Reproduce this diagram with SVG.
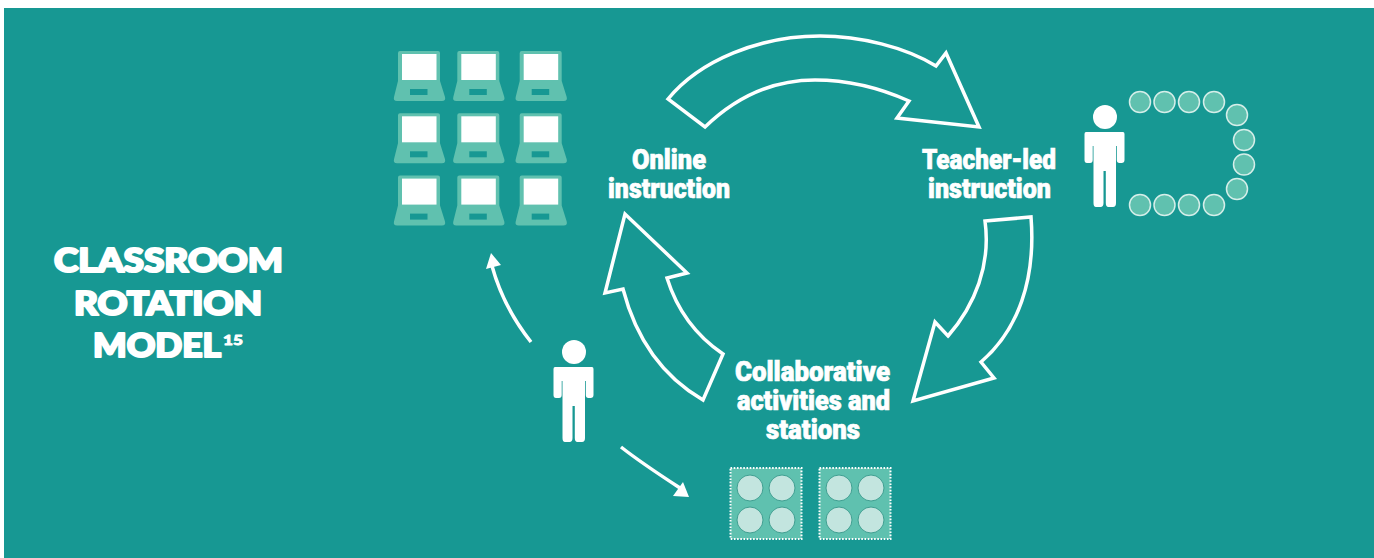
<svg xmlns="http://www.w3.org/2000/svg" width="1374" height="558" viewBox="0 0 1374 558">
<style>
.lbl{font-family:"Roboto","Liberation Sans",sans-serif;font-weight:900;font-size:28px;fill:#fff;stroke:#fff;stroke-width:.7px}
.ttl{font-family:"Lato","Liberation Sans",sans-serif;font-weight:900;font-size:33px;fill:#fff;stroke:#fff;stroke-width:2.2px;stroke-linejoin:round}
.big{fill:none;stroke:#fff;stroke-width:3.5;stroke-linejoin:miter}
.thin{fill:none;stroke:#fff;stroke-width:3.5}
.seat{fill:#60C1AF;stroke:#D5EEE9;stroke-width:1.5}
.box{fill:#5FC1AF;stroke:#fff;stroke-width:2;stroke-dasharray:1.6 1.6}
.pod{fill:#C3E5DF;stroke:#3F9F91;stroke-width:1}
.lid{fill:#60C1AF}
.scr{fill:#fff}
.key{fill:#179893}
</style>
<defs>
<g id="person" fill="#fff">
<circle cx="0" cy="0" r="12"/>
<path d="M-19 15H18Q19.500 15 19.500 17V43Q19.500 46 16.500 46H14.500Q11.800 46 11.800 43V29H11V86Q11 90 8 90H3.500Q0.800 90 0.800 86V54H-1.500V86Q-1.500 90 -4.500 90H-9Q-11.500 90 -11.500 86V29H-12.300V43Q-12.300 46 -15 46H-18Q-20.500 46 -20.500 43V17Q-20.500 15 -19 15Z"/>
</g>
<g id="laptop">
<path class="lid" d="M400 51H438Q440 51 440 53V81L445 97Q446 101 442 101H397Q393 101 394 97L398 81V53Q398 51 400 51Z"/>
<rect class="scr" x="402" y="54" width="34.500" height="26"/>
<rect class="key" x="410" y="89" width="17.500" height="6"/>
</g>
<g id="station">
<rect class="box" x="730.500" y="468" width="71" height="71"/>
<circle class="pod" cx="750" cy="488" r="13"/>
<circle class="pod" cx="782" cy="488" r="13"/>
<circle class="pod" cx="750" cy="520" r="13"/>
<circle class="pod" cx="782" cy="520" r="13"/>
</g>
</defs>
<rect x="0" y="0" width="1374" height="558" fill="#fff"/>
<rect x="4" y="8" width="1370" height="550" fill="#179893"/>
<g id="title">
<text class="ttl" x="54" y="272" textLength="229" lengthAdjust="spacingAndGlyphs">CLASSROOM</text>
<text class="ttl" x="74" y="315" textLength="188" lengthAdjust="spacingAndGlyphs">ROTATION</text>
<text class="ttl" x="93" y="357" textLength="128" lengthAdjust="spacingAndGlyphs">MODEL</text>
<text class="ttl" x="223" y="345" style="font-size:14px;stroke-width:.8px" textLength="20" lengthAdjust="spacingAndGlyphs">15</text>
</g>
<g id="connectors">
<path class="big" d="M668 99C700 60 760 36 820 36C860 36 905 47 936 66L946 53L979 127L897 118L909 101C880 88 850 80 815 80C770 80 735 98 705 127Z"/>
<path class="big" d="M985 221L1031 217C1036 280 1018 330 981 362L994 378L913 401L935 322L948 336C975 305 991 265 985 221Z"/>
<path class="big" d="M723 354L703 400C660 375 635 335 623 289L605 293L625 214L687 273L667 278C677 310 695 335 723 354Z"/>
<path class="thin" d="M531 342C512 318 500 295 492 266"/>
<path fill="#fff" d="M491 253L486 269L501 265Z"/>
<path class="thin" d="M621 447C640 462 660 475 680 488"/>
<path fill="#fff" d="M689 497L673 496L683 482Z"/>
</g>
<g id="laptops">
<use href="#laptop"/><use href="#laptop" x="59.300"/><use href="#laptop" x="121.700"/>
<use href="#laptop" y="62.300"/><use href="#laptop" x="59.300" y="62.300"/><use href="#laptop" x="121.700" y="62.300"/>
<use href="#laptop" y="124.600"/><use href="#laptop" x="59.300" y="124.600"/><use href="#laptop" x="121.700" y="124.600"/>
</g>
<g id="online-label">
<text class="lbl" x="632" y="169" textLength="74" lengthAdjust="spacingAndGlyphs">Online</text>
<text class="lbl" x="608" y="198" textLength="122" lengthAdjust="spacingAndGlyphs">instruction</text>
</g>
<g id="teacher-label">
<text class="lbl" x="922" y="169" textLength="134" lengthAdjust="spacingAndGlyphs">Teacher-led</text>
<text class="lbl" x="928" y="198" textLength="123" lengthAdjust="spacingAndGlyphs">instruction</text>
</g>
<g id="collab-label">
<text class="lbl" x="735" y="381" textLength="155" lengthAdjust="spacingAndGlyphs">Collaborative</text>
<text class="lbl" x="737" y="410" textLength="153" lengthAdjust="spacingAndGlyphs">activities and</text>
<text class="lbl" x="766" y="439" textLength="94" lengthAdjust="spacingAndGlyphs">stations</text>
</g>
<g id="teacher">
<use href="#person" x="1105" y="117"/>
<circle class="seat" cx="1140" cy="102" r="10.500"/><circle class="seat" cx="1164.500" cy="102" r="10.500"/><circle class="seat" cx="1189" cy="102" r="10.500"/><circle class="seat" cx="1214" cy="102" r="10.500"/>
<circle class="seat" cx="1237" cy="115" r="10.500"/><circle class="seat" cx="1244" cy="140" r="10.500"/><circle class="seat" cx="1244" cy="164.500" r="10.500"/><circle class="seat" cx="1237" cy="189" r="10.500"/>
<circle class="seat" cx="1140" cy="205" r="10.500"/><circle class="seat" cx="1164.500" cy="205" r="10.500"/><circle class="seat" cx="1189" cy="205" r="10.500"/><circle class="seat" cx="1214" cy="205" r="10.500"/>
</g>
<g id="student"><use href="#person" x="574" y="352"/></g>
<g id="stations"><use href="#station"/><use href="#station" x="89"/></g>
</svg>
